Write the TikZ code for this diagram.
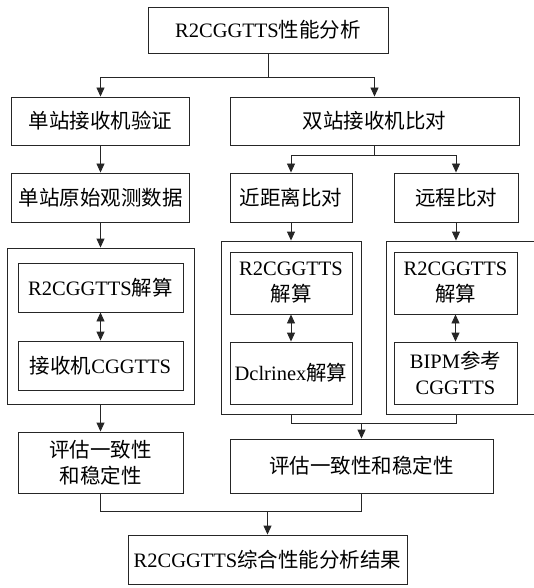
\documentclass[tikz,border=0pt]{standalone}
\usepackage{fontspec}
\setmainfont{Liberation Serif}
\newfontfamily\cjk{Noto Sans CJK SC}
\usetikzlibrary{arrows.meta}
\newcommand{\zh}[1]{{\cjk #1}}
\tikzset{
  box/.style={draw=black!85, line width=0.9pt, inner sep=0pt, align=center,
    font=\fontsize{20.5}{26}\selectfont},
  frame/.style={draw=black!85, line width=0.9pt, inner sep=0pt},
  conn/.style={draw=black!85, line width=0.9pt},
  arr/.style={conn, -{Triangle[length=9pt,width=8pt]}},
  darr/.style={conn, {Triangle[length=9pt,width=8pt]}-{Triangle[length=9pt,width=8pt]}},
}
\begin{document}
\begin{tikzpicture}[x=1pt,y=-1pt]
\useasboundingbox (0,0) rectangle (534,588);
\clip (0,0) rectangle (534,588);
% outer frames
\node[frame, minimum width=187pt, minimum height=156pt] (louter) at (100.5,326) {};
\node[frame, minimum width=140pt, minimum height=173pt] (mouter) at (291,327.5) {};
\node[frame, minimum width=151pt, minimum height=173pt] (router) at (461.5,327.5) {};
% boxes
\node[box, minimum width=240pt, minimum height=46pt] (top) at (268,30) {R2CGGTTS\zh{性能分析}};
\node[box, minimum width=178pt, minimum height=48pt] (sv) at (100.5,121) {\zh{单站接收机验证}};
\node[box, minimum width=289pt, minimum height=48pt] (dv) at (374.5,121) {\zh{双站接收机比对}};
\node[box, minimum width=178pt, minimum height=49pt] (sd) at (100.5,197.5) {\zh{单站原始观测数据}};
\node[box, minimum width=122pt, minimum height=49pt] (near) at (291,197.5) {\zh{近距离比对}};
\node[box, minimum width=124pt, minimum height=49pt] (far) at (456,197.5) {\zh{远程比对}};
\node[box, minimum width=165pt, minimum height=49pt] (lr2) at (100.5,287.5) {R2CGGTTS\zh{解算}};
\node[box, minimum width=165pt, minimum height=49pt] (lrx) at (100.5,365.5) {\zh{接收机}CGGTTS};
\node[box, minimum width=122pt, minimum height=62pt] (mr2) at (291,283) {R2CGGTTS\\\zh{解算}};
\node[box, minimum width=122pt, minimum height=62pt] (mdc) at (291,373) {Dclrinex\zh{解算}};
\node[box, minimum width=123pt, minimum height=62pt] (rr2) at (455.5,283) {R2CGGTTS\\\zh{解算}};
\node[box, minimum width=123pt, minimum height=62pt] (rbipm) at (455.5,373) {BIPM\zh{参考}\\CGGTTS};
\node[box, minimum width=165pt, minimum height=61pt] (leval) at (100.5,462.5) {\zh{评估一致性}\\\zh{和稳定性}};
\node[box, minimum width=263pt, minimum height=54pt] (reval) at (361.5,466) {\zh{评估一致性和稳定性}};
\node[box, minimum width=279pt, minimum height=49pt] (final) at (267.5,559.5) {R2CGGTTS\zh{综合性能分析结果}};
% connectors
\coordinate (j1) at (268,77);
\draw[conn] (top.south) -- (j1);
\draw[arr] (j1) -| (sv.north);
\draw[arr] (j1) -| (dv.north);
\draw[arr] (sv.south) -- (sd.north);
\coordinate (j2) at (374.5,155);
\draw[conn] (dv.south) -- (j2);
\draw[arr] (j2) -| (near.north);
\draw[arr] (j2) -| (far.north);
\draw[arr] (sd.south) -- (louter.north);
\draw[arr] (near.south) -- (mouter.north);
\draw[arr] (far.south) -- (far.south |- router.north);
\draw[darr] (lr2.south) -- (lrx.north);
\draw[darr] (mr2.south) -- (mdc.north);
\draw[darr] (rr2.south) -- (rbipm.north);
\draw[arr] (louter.south) -- (leval.north);
\coordinate (j3) at (361.5,423);
\draw[conn] (mouter.south) |- (j3);
\draw[conn] (far.south |- router.south) |- (j3);
\draw[arr] (j3) -- (reval.north);
\coordinate (j4) at (267.5,511);
\draw[conn] (leval.south) |- (j4);
\draw[conn] (reval.south) |- (j4);
\draw[arr] (j4) -- (final.north);
\end{tikzpicture}
\end{document}
